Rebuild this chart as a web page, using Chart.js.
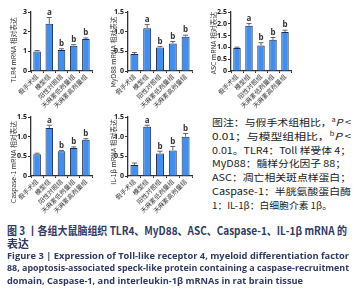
<!DOCTYPE html>
<html>
<head>
<meta charset="utf-8">
<script src="https://cdn.jsdelivr.net/npm/chart.js@4.4.1/dist/chart.umd.min.js"></script>
<style>
  html, body { margin: 0; padding: 0; background: #fff; }
  #page { position: relative; width: 353px; height: 300px; overflow: hidden; }
  canvas { position: absolute; }
  .ln { position: absolute; white-space: nowrap; transform-origin: 0 50%; }
  .note { font-family: "Noto Sans CJK SC", "Noto Sans", sans-serif; font-size: 9.5px; color: #222; left: 212px; }
  .cn { font-family: "Noto Sans CJK SC", sans-serif; font-size: 11px; font-weight: bold; color: #2f3a66; left: 7px; }
  .en { font-family: "Open Sans", "Noto Sans", sans-serif; font-size: 8.5px; font-weight: bold; color: #2f3a66; left: 7px; }
</style>
</head>
<body>
<div id="page">
  <canvas id="c1" width="100" height="110" style="left:0;top:0"></canvas>
  <canvas id="c2" width="100" height="110" style="left:100px;top:0"></canvas>
  <canvas id="c3" width="100" height="110" style="left:200px;top:0"></canvas>
  <canvas id="c4" width="100" height="110" style="left:0;top:105px"></canvas>
  <canvas id="c5" width="100" height="110" style="left:100px;top:105px"></canvas>

  <div class="ln note" style="top:115px" data-w="139">图注：与假手术组相比，<sup style="font-size:6px">a</sup><i>P</i> &lt;</div>
  <div class="ln note" style="top:129px" data-w="139">0.01；与模型组相比，<sup style="font-size:6px">b</sup><i>P</i> &lt;</div>
  <div class="ln note" style="top:143px" data-w="139">0.01。TLR4：Toll 样受体 4；</div>
  <div class="ln note" style="top:156px" data-w="134">MyD88：髓样分化因子 88；</div>
  <div class="ln note" style="top:170px" data-w="139">ASC：凋亡相关斑点样蛋白；</div>
  <div class="ln note" style="top:184px" data-w="139">Caspase-1：半胱氨酸蛋白酶</div>
  <div class="ln note" style="top:198px" data-w="120">1：IL-1β：白细胞介素 1β。</div>

  <div class="ln cn" style="top:222px" data-w="340">图 3 丨各组大鼠脑组织 TLR4、MyD88、ASC、Caspase-1、IL-1β mRNA 的</div>
  <div class="ln cn" style="top:235px">表达</div>
  <div class="ln en" style="top:250px" data-w="342">Figure 3 | Expression of Toll-like receptor 4, myeloid differentiation factor</div>
  <div class="ln en" style="top:262px" data-w="342">88, apoptosis-associated speck-like protein containing a caspase-recruitment</div>
  <div class="ln en" style="top:275px" data-w="296">domain, Caspase-1, and interleukin-1β mRNAs in rat brain tissue</div>
</div>
<script>
// 组别
const groups = ['假手术组', '模型组', '阳性对照组', '天麻素低剂量组', '天麻素高剂量组']

// 各指标相对表达量
const tlr4 = [0.99, 2.40, 1.07, 1.29, 1.63]
const tlr4Err = [0.05, 0.32, 0.06, 0.05, 0.05]
const myd88 = [0.43, 1.09, 0.60, 0.70, 0.87]
const myd88Err = [0.04, 0.09, 0.02, 0.05, 0.04]
const asc = [0.97, 1.92, 1.08, 1.32, 1.65]
const ascErr = [0.04, 0.09, 0.12, 0.10, 0.08]
const casp1 = [0.55, 1.22, 0.63, 0.71, 0.92]
const casp1Err = [0.03, 0.07, 0.02, 0.03, 0.03]
const il1b = [0.28, 1.25, 0.57, 0.65, 1.00]
const il1bErr = [0.05, 0.04, 0.06, 0.10, 0.08]

// 显著性标记
const marks = ['', 'a', 'b', 'b', 'b']

// 刻度标签
const ticks3 = ['0', '1', '2', '3']
const ticks15 = ['0', '0.5', '1.0', '1.5']
const ticks25 = ['0', '0.5', '1.0', '1.5', '2.0', '2.5']

// 误差线 + 字母
const errorBars = {
  id: 'errorBars',
  afterDatasetsDraw(chart, args, opts) {
    const ctx = chart.ctx
    const ys = chart.scales.y
    const meta = chart.getDatasetMeta(0)
    ctx.save()
    meta.data.forEach((bar, i) => {
      const v = chart.data.datasets[0].data[i]
      const top = ys.getPixelForValue(v + opts.err[i])
      ctx.strokeStyle = '#666'
      ctx.lineWidth = 1
      ctx.beginPath()
      ctx.moveTo(bar.x, bar.y)
      ctx.lineTo(bar.x, top)
      ctx.moveTo(bar.x - 2.5, top)
      ctx.lineTo(bar.x + 2.5, top)
      ctx.stroke()
      if (opts.marks[i]) {
        ctx.fillStyle = '#333'
        ctx.font = 'bold 8px "Open Sans", sans-serif'
        ctx.textAlign = 'center'
        ctx.textBaseline = 'bottom'
        ctx.fillText(opts.marks[i], bar.x, top - 1)
      }
    })
    ctx.restore()
  }
}

// 纵轴标题
const yTitle = {
  id: 'yTitle',
  afterDraw(chart, args, opts) {
    const ctx = chart.ctx
    ctx.save()
    ctx.translate(opts.x, opts.y)
    ctx.rotate(-Math.PI / 2)
    ctx.fillStyle = '#333'
    ctx.font = '6.8px "Noto Sans CJK SC", sans-serif'
    ctx.textAlign = 'center'
    ctx.textBaseline = 'middle'
    ctx.fillText(opts.text, 0, 0)
    ctx.restore()
  }
}

function makeChart(id, values, err, max, step, tickLabels, title, titleY, yWidth, padRight) {
  new Chart(document.getElementById(id), {
    type: 'bar',
    data: {
      labels: groups,
      datasets: [{
        data: values,
        backgroundColor: '#3f8ef2',
        borderColor: '#1c2b4d',
        borderWidth: 1,
        categoryPercentage: 1,
        barPercentage: 0.62
      }]
    },
    options: {
      responsive: false,
      animation: false,
      devicePixelRatio: 1,
      layout: { padding: { top: 12, right: padRight, left: 0, bottom: 0 } },
      plugins: {
        legend: { display: false },
        tooltip: { enabled: false },
        errorBars: { err: err, marks: marks },
        yTitle: { text: title, x: 13, y: titleY }
      },
      scales: {
        x: {
          afterFit(s) { s.height = 39 },
          grid: { display: true, drawOnChartArea: false, tickLength: 2, color: '#333' },
          border: { color: '#333', width: 1.3 },
          ticks: {
            autoSkip: false, minRotation: 45, maxRotation: 45, padding: 0,
            color: '#333', font: { size: 6.3, family: '"Noto Sans CJK SC", sans-serif' }
          }
        },
        y: {
          min: 0, max: max,
          afterFit(s) { s.width = yWidth },
          grid: { display: true, drawOnChartArea: false, tickLength: 3, color: '#333' },
          border: { color: '#333', width: 1.3 },
          ticks: {
            stepSize: step, padding: 1, color: '#222',
            font: { size: 7, weight: 'bold', family: '"Open Sans", sans-serif' },
            callback: (v, i) => tickLabels[i]
          }
        }
      }
    },
    plugins: [errorBars, yTitle]
  })
}

makeChart('c1', tlr4, tlr4Err, 3, 1, ticks3, 'TLR4 mRNA 相对表达', 50, 31, 8)
makeChart('c2', myd88, myd88Err, 1.5, 0.5, ticks15, 'MyD88 mRNA 相对表达', 52, 28, 8)
makeChart('c3', asc, ascErr, 2.5, 0.5, ticks25, 'ASC mRNA 相对表达', 43, 31, 9)
makeChart('c4', casp1, casp1Err, 1.5, 0.5, ticks15, 'Caspase-1 mRNA 相对表达', 57, 31, 8)
makeChart('c5', il1b, il1bErr, 1.5, 0.5, ticks15, 'IL-1β mRNA 相对表达', 47, 28, 8)

// 文字行按目标宽度缩放
document.querySelectorAll('.ln[data-w]').forEach(el => {
  const w = el.getBoundingClientRect().width
  el.style.transform = 'scaleX(' + (parseFloat(el.dataset.w) / w) + ')'
})
</script>
</body>
</html>
